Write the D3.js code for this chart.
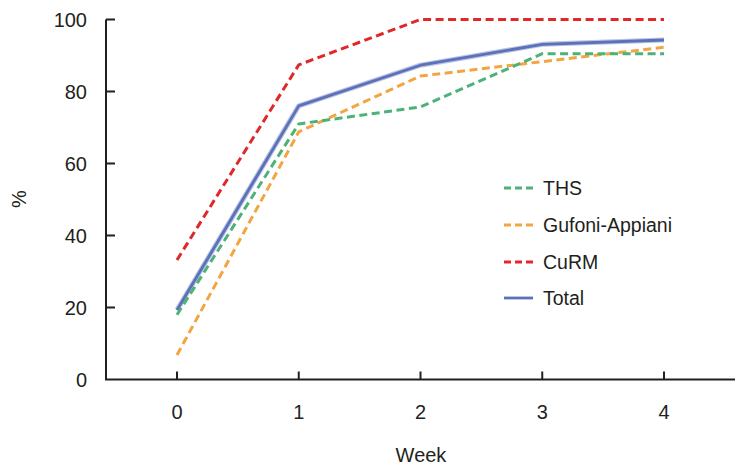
<!DOCTYPE html>
<html>
<head>
<meta charset="utf-8">
<script src="https://cdn.jsdelivr.net/npm/d3@7"></script>
<style>
  html, body { margin: 0; padding: 0; background: #fff; }
  svg { display: block; font-family: "Liberation Sans", Arial, Helvetica, sans-serif; }
</style>
</head>
<body>
<svg id="chart" width="737" height="471"></svg>
<script>
const weeks = [0, 1, 2, 3, 4];
const yTicks = [0, 20, 40, 60, 80, 100];
const seriesNames = ["THS", "Gufoni-Appiani", "CuRM", "Total"];
const thsValues = [18, 71, 75.7, 90.5, 90.5];
const gufoniValues = [6.8, 68.8, 84.3, 88.3, 92.3];
const curmValues = [33.2, 87.4, 100, 100, 100];
const totalValues = [19.3, 76, 87.3, 93.1, 94.3];
const seriesColors = ["#4db277", "#f2a541", "#e0282b", "#5b71b9"];

const series = [
  { name: seriesNames[0], values: thsValues, color: seriesColors[0], dashed: true },
  { name: seriesNames[1], values: gufoniValues, color: seriesColors[1], dashed: true },
  { name: seriesNames[2], values: curmValues, color: seriesColors[2], dashed: true },
  { name: seriesNames[3], values: totalValues, color: seriesColors[3], dashed: false }
];

const svg = d3.select("#chart");
const axisLeftX = 106, axisRightX = 735, axisBottomY = 379.5, axisTopY = 19.5;

const x = d3.scaleLinear().domain([0, 4]).range([177, 664]);
const y = d3.scaleLinear().domain([0, 100]).range([axisBottomY, axisTopY]);

// Y axis
const yAxis = svg.append("g").attr("transform", `translate(${axisLeftX},0)`);
yAxis.append("line").attr("x1", 0).attr("x2", 0).attr("y1", axisTopY).attr("y2", axisBottomY)
  .attr("stroke", "#231f20").attr("stroke-width", 2);
yTicks.forEach(t => {
  if (t > 0) yAxis.append("line").attr("x1", 0).attr("x2", 9).attr("y1", y(t)).attr("y2", y(t))
    .attr("stroke", "#231f20").attr("stroke-width", 2);
  yAxis.append("text").attr("x", -19).attr("y", y(t)).attr("dy", "0.36em")
    .attr("text-anchor", "end").attr("font-size", 20).attr("fill", "#231f20").text(t);
});

// X axis
const xAxis = svg.append("g");
xAxis.append("line").attr("x1", axisLeftX - 1).attr("x2", axisRightX).attr("y1", axisBottomY).attr("y2", axisBottomY)
  .attr("stroke", "#231f20").attr("stroke-width", 2);
weeks.forEach(w => {
  xAxis.append("line").attr("x1", x(w)).attr("x2", x(w)).attr("y1", axisBottomY).attr("y2", axisBottomY - 8)
    .attr("stroke", "#231f20").attr("stroke-width", 2);
  xAxis.append("text").attr("x", x(w)).attr("y", 419).attr("text-anchor", "middle")
    .attr("font-size", 20).attr("fill", "#231f20").text(w);
});

// Axis titles
svg.append("text").attr("x", 421).attr("y", 462).attr("text-anchor", "middle")
  .attr("font-size", 20).attr("fill", "#231f20").text("Week");
svg.append("text").attr("transform", "translate(26,199) rotate(-90)").attr("text-anchor", "middle")
  .attr("font-size", 20).attr("fill", "#231f20").text("%");

// Lines
const line = d3.line().x((d, i) => x(weeks[i])).y(d => y(d));
// draw order: Total first, then others? Keep dashed lines drawn over total near crossings
const drawOrder = [3, 1, 0, 2];
drawOrder.forEach(k => {
  const s = series[k];
  if (!s.dashed) {
    svg.append("path").datum(s.values).attr("d", line).attr("fill", "none")
      .attr("stroke", "#b9c3e3").attr("stroke-width", 5).attr("stroke-linejoin", "round");
  }
  svg.append("path").datum(s.values).attr("d", line).attr("fill", "none")
    .attr("stroke", s.color).attr("stroke-width", s.dashed ? 3 : 2.8)
    .attr("stroke-dasharray", s.dashed ? "8,4.5" : null)
    .attr("stroke-linejoin", "round");
});

// Legend
const legendRows = [188, 225, 262, 298];
series.forEach((s, i) => {
  const g = svg.append("g").attr("transform", `translate(0,${legendRows[i]})`);
  g.append("line").attr("x1", 504).attr("x2", 533).attr("y1", 0).attr("y2", 0)
    .attr("stroke", s.color).attr("stroke-width", s.dashed ? 3 : 2.8)
    .attr("stroke-dasharray", s.dashed ? "7,4" : null);
  g.append("text").attr("x", 543).attr("y", 0).attr("dy", "0.36em")
    .attr("font-size", 19.5).attr("fill", "#231f20").text(s.name);
});
</script>
</body>
</html>
